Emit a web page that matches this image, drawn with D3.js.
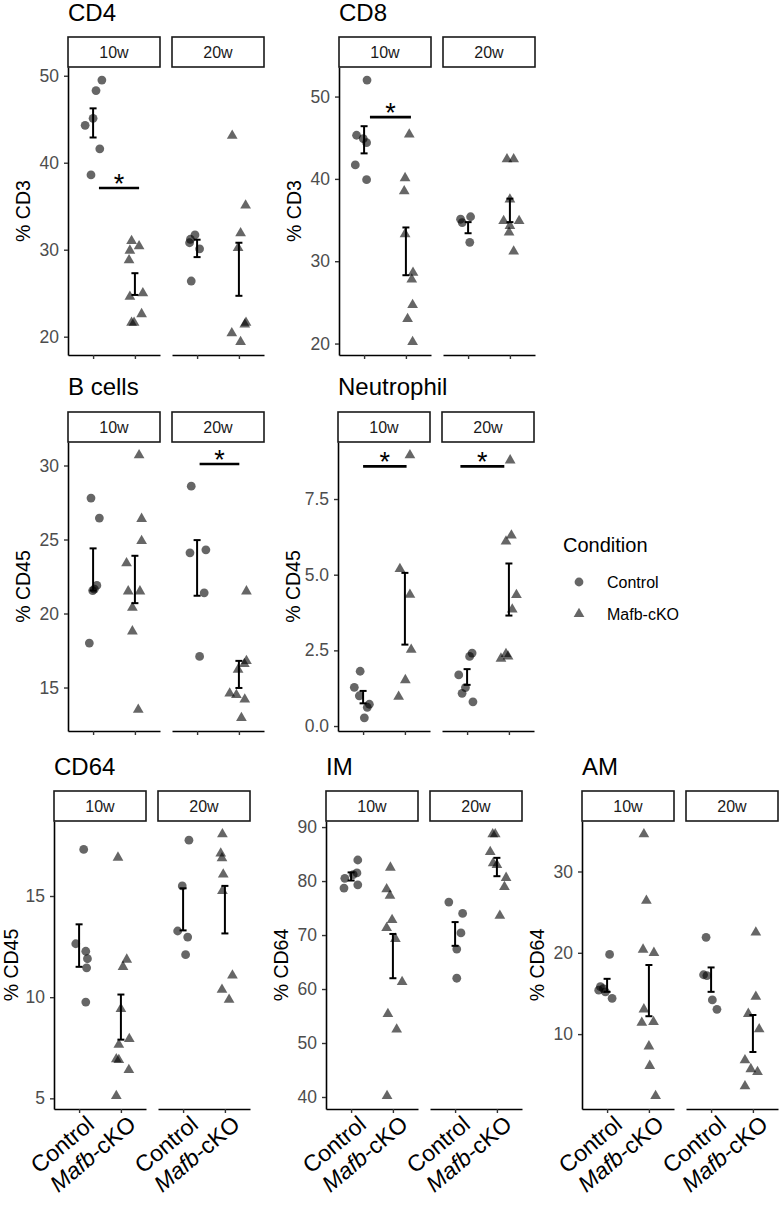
<!DOCTYPE html>
<html>
<head>
<meta charset="utf-8">
<script src="https://cdn.jsdelivr.net/npm/d3@7"></script>
<style>
body { margin: 0; background: #fff; }
svg { font-family: "Liberation Sans", Arial, sans-serif; }
</style>
</head>
<body>
<svg id="chart" width="781" height="1205"></svg>
<script>
// ---- data ----
const ages = ["10w", "20w"];
const conditions = ["Control", "Mafb-cKO"];
const panelNames = ["CD4", "CD8", "B cells", "Neutrophil", "CD64", "IM", "AM"];
const yTitles = ["% CD3", "% CD3", "% CD45", "% CD45", "% CD45", "% CD64", "% CD64"];
const yTicks = [
    [20, 30, 40, 50], [20, 30, 40, 50], [15, 20, 25, 30], [0, 2.5, 5, 7.5],
    [5, 10, 15], [40, 50, 60, 70, 80, 90], [10, 20, 30]
];

// points: [age, condition, value, jitter (category units)]
const cd4Points = [
    ["10w", "Control", 49.5, 0.21], ["10w", "Control", 48.3, 0.07], ["10w", "Control", 45.1, 0],
    ["10w", "Control", 44.3, -0.19], ["10w", "Control", 41.6, 0.16], ["10w", "Control", 38.6, -0.05],
    ["10w", "Mafb-cKO", 31.0, -0.08], ["10w", "Mafb-cKO", 30.4, 0.1], ["10w", "Mafb-cKO", 29.9, -0.12],
    ["10w", "Mafb-cKO", 28.8, -0.14], ["10w", "Mafb-cKO", 25.0, 0.19], ["10w", "Mafb-cKO", 24.6, -0.12],
    ["10w", "Mafb-cKO", 22.6, 0.16], ["10w", "Mafb-cKO", 21.6, -0.08], ["10w", "Mafb-cKO", 21.6, -0.02],
    ["20w", "Control", 31.7, -0.05], ["20w", "Control", 31.2, -0.16], ["20w", "Control", 30.8, -0.18],
    ["20w", "Control", 30.1, 0.06], ["20w", "Control", 26.4, -0.14],
    ["20w", "Mafb-cKO", 43.1, -0.16], ["20w", "Mafb-cKO", 35.1, 0.16], ["20w", "Mafb-cKO", 31.9, 0.04],
    ["20w", "Mafb-cKO", 30.2, -0.02], ["20w", "Mafb-cKO", 21.6, 0.17], ["20w", "Mafb-cKO", 21.4, 0.14],
    ["20w", "Mafb-cKO", 20.4, -0.17], ["20w", "Mafb-cKO", 19.4, 0.04]
];
const cd8Points = [
    ["10w", "Control", 52.0, 0.07], ["10w", "Control", 45.3, -0.18], ["10w", "Control", 44.9, -0.02],
    ["10w", "Control", 44.4, 0.06], ["10w", "Control", 41.7, -0.21], ["10w", "Control", 39.9, 0.06],
    ["10w", "Mafb-cKO", 45.4, 0.08], ["10w", "Mafb-cKO", 40.1, -0.02], ["10w", "Mafb-cKO", 38.5, -0.04],
    ["10w", "Mafb-cKO", 33.3, -0.02], ["10w", "Mafb-cKO", 28.6, 0.17], ["10w", "Mafb-cKO", 27.8, 0.14],
    ["10w", "Mafb-cKO", 24.7, 0.16], ["10w", "Mafb-cKO", 23.0, 0.04], ["10w", "Mafb-cKO", 20.2, 0.16],
    ["20w", "Control", 35.4, 0.06], ["20w", "Control", 35.1, -0.18], ["20w", "Control", 34.7, -0.14],
    ["20w", "Control", 32.3, 0.04],
    ["20w", "Mafb-cKO", 42.4, -0.07], ["20w", "Mafb-cKO", 42.4, 0.09], ["20w", "Mafb-cKO", 37.5, 0],
    ["20w", "Mafb-cKO", 34.9, -0.15], ["20w", "Mafb-cKO", 34.9, 0.22], ["20w", "Mafb-cKO", 34.3, 0],
    ["20w", "Mafb-cKO", 33.5, -0.02], ["20w", "Mafb-cKO", 31.2, 0.09]
];
const bcellPoints = [
    ["10w", "Control", 27.8, -0.05], ["10w", "Control", 26.45, 0.15], ["10w", "Control", 21.9, 0.09],
    ["10w", "Control", 21.65, 0.03], ["10w", "Control", 21.55, -0.01], ["10w", "Control", 18.0, -0.09],
    ["10w", "Mafb-cKO", 30.7, 0.1], ["10w", "Mafb-cKO", 26.4, 0.16], ["10w", "Mafb-cKO", 24.9, 0.16],
    ["10w", "Mafb-cKO", 23.4, -0.2], ["10w", "Mafb-cKO", 21.5, -0.16], ["10w", "Mafb-cKO", 21.5, 0.12],
    ["10w", "Mafb-cKO", 20.4, -0.06], ["10w", "Mafb-cKO", 18.8, -0.06], ["10w", "Mafb-cKO", 13.5, 0.08],
    ["20w", "Control", 28.6, -0.14], ["20w", "Control", 24.3, 0.21], ["20w", "Control", 24.1, -0.17],
    ["20w", "Control", 21.4, 0.17], ["20w", "Control", 17.1, 0.06],
    ["20w", "Mafb-cKO", 21.5, 0.18], ["20w", "Mafb-cKO", 16.8, 0.18], ["20w", "Mafb-cKO", 16.6, 0.13],
    ["20w", "Mafb-cKO", 16.2, -0.02], ["20w", "Mafb-cKO", 14.6, -0.22], ["20w", "Mafb-cKO", 14.5, -0.06],
    ["20w", "Mafb-cKO", 14.2, 0.14], ["20w", "Mafb-cKO", 12.95, 0.06]
];
const neutroPoints = [
    ["10w", "Control", 1.81, -0.07], ["10w", "Control", 1.28, -0.21], ["10w", "Control", 1.0, -0.09],
    ["10w", "Control", 0.72, 0.15], ["10w", "Control", 0.62, 0.1], ["10w", "Control", 0.27, 0.03],
    ["10w", "Mafb-cKO", 8.95, 0.12], ["10w", "Mafb-cKO", 5.19, -0.12], ["10w", "Mafb-cKO", 4.34, 0.12],
    ["10w", "Mafb-cKO", 2.52, 0.15], ["10w", "Mafb-cKO", 1.52, 0.01], ["10w", "Mafb-cKO", 0.97, -0.15],
    ["20w", "Control", 2.41, 0.12], ["20w", "Control", 2.3, 0.06], ["20w", "Control", 1.69, -0.2],
    ["20w", "Control", 1.27, -0.04], ["20w", "Control", 1.08, -0.12], ["20w", "Control", 0.8, 0.14],
    ["20w", "Mafb-cKO", 8.78, 0.03], ["20w", "Mafb-cKO", 6.3, 0.06], ["20w", "Mafb-cKO", 6.1, -0.07],
    ["20w", "Mafb-cKO", 4.33, 0.18], ["20w", "Mafb-cKO", 3.85, 0.08], ["20w", "Mafb-cKO", 2.38, -0.07],
    ["20w", "Mafb-cKO", 2.3, -0.02], ["20w", "Mafb-cKO", 2.23, -0.19]
];
const cd64Points = [
    ["10w", "Control", 17.3, 0.11], ["10w", "Control", 12.64, -0.08], ["10w", "Control", 12.27, 0.16],
    ["10w", "Control", 11.9, 0.2], ["10w", "Control", 11.45, 0.18], ["10w", "Control", 9.76, 0.16],
    ["10w", "Mafb-cKO", 16.9, -0.07], ["10w", "Mafb-cKO", 11.86, 0.14], ["10w", "Mafb-cKO", 11.5, 0.05],
    ["10w", "Mafb-cKO", 9.42, 0], ["10w", "Mafb-cKO", 7.94, 0.2], ["10w", "Mafb-cKO", 7.65, -0.05],
    ["10w", "Mafb-cKO", 6.94, -0.11], ["10w", "Mafb-cKO", 6.9, -0.05], ["10w", "Mafb-cKO", 6.4, 0.19],
    ["10w", "Mafb-cKO", 5.12, -0.11],
    ["20w", "Control", 17.76, 0.14], ["20w", "Control", 15.5, -0.02], ["20w", "Control", 13.27, -0.13],
    ["20w", "Control", 12.97, 0.11], ["20w", "Control", 12.1, 0.06],
    ["20w", "Mafb-cKO", 18.06, -0.06], ["20w", "Mafb-cKO", 17.1, -0.1], ["20w", "Mafb-cKO", 16.87, -0.07],
    ["20w", "Mafb-cKO", 16.07, -0.04], ["20w", "Mafb-cKO", 15.25, -0.06], ["20w", "Mafb-cKO", 11.07, 0.18],
    ["20w", "Mafb-cKO", 10.37, -0.07], ["20w", "Mafb-cKO", 9.88, 0.1]
];
const imPoints = [
    ["10w", "Control", 83.9, 0.16], ["10w", "Control", 81.5, 0.14], ["10w", "Control", 81.2, 0.05],
    ["10w", "Control", 80.5, -0.15], ["10w", "Control", 79.3, 0.16], ["10w", "Control", 78.7, -0.17],
    ["10w", "Mafb-cKO", 82.5, -0.06], ["10w", "Mafb-cKO", 78.5, -0.15], ["10w", "Mafb-cKO", 77.3, -0.07],
    ["10w", "Mafb-cKO", 72.8, -0.02], ["10w", "Mafb-cKO", 71.3, -0.15], ["10w", "Mafb-cKO", 69.3, 0.06],
    ["10w", "Mafb-cKO", 61.3, 0.22], ["10w", "Mafb-cKO", 55.4, -0.12], ["10w", "Mafb-cKO", 52.5, 0.09],
    ["10w", "Mafb-cKO", 40.2, -0.14],
    ["20w", "Control", 76.1, -0.15], ["20w", "Control", 74.0, 0.18], ["20w", "Control", 70.4, 0.14],
    ["20w", "Control", 67.4, 0.04], ["20w", "Control", 62.0, 0.04],
    ["20w", "Mafb-cKO", 88.7, -0.1], ["20w", "Mafb-cKO", 88.7, -0.04], ["20w", "Mafb-cKO", 85.4, -0.16],
    ["20w", "Mafb-cKO", 83.3, -0.09], ["20w", "Mafb-cKO", 83.0, 0.0], ["20w", "Mafb-cKO", 80.6, 0.22],
    ["20w", "Mafb-cKO", 78.9, 0.18], ["20w", "Mafb-cKO", 73.6, 0.07]
];
const amPoints = [
    ["10w", "Control", 19.8, 0.06], ["10w", "Control", 15.85, -0.16], ["10w", "Control", 15.6, -0.09],
    ["10w", "Control", 15.4, -0.2], ["10w", "Control", 15.2, -0.04], ["10w", "Control", 14.4, 0.12],
    ["10w", "Mafb-cKO", 34.6, -0.12], ["10w", "Mafb-cKO", 26.4, -0.06], ["10w", "Mafb-cKO", 20.4, -0.14],
    ["10w", "Mafb-cKO", 20.0, 0.12], ["10w", "Mafb-cKO", 13.05, -0.12], ["10w", "Mafb-cKO", 11.4, -0.17],
    ["10w", "Mafb-cKO", 11.5, 0.11], ["10w", "Mafb-cKO", 8.5, 0], ["10w", "Mafb-cKO", 6.1, 0.02],
    ["10w", "Mafb-cKO", 2.4, 0.16],
    ["20w", "Control", 21.9, -0.12], ["20w", "Control", 17.3, -0.18], ["20w", "Control", 17.2, -0.1],
    ["20w", "Control", 14.2, 0.03], ["20w", "Control", 13.05, 0.14],
    ["20w", "Mafb-cKO", 22.5, 0.07], ["20w", "Mafb-cKO", 14.6, 0.07], ["20w", "Mafb-cKO", 12.5, -0.11],
    ["20w", "Mafb-cKO", 10.6, 0.15], ["20w", "Mafb-cKO", 6.8, -0.19], ["20w", "Mafb-cKO", 5.7, -0.05],
    ["20w", "Mafb-cKO", 5.35, 0.11], ["20w", "Mafb-cKO", 3.6, -0.19]
];

// mean +/- SEM bars: [age, condition, low, high]
const cd4Err = [["10w", "Control", 42.9, 46.25], ["10w", "Mafb-cKO", 24.8, 27.3], ["20w", "Control", 29.15, 31.15], ["20w", "Mafb-cKO", 24.7, 30.8]];
const cd8Err = [["10w", "Control", 43.1, 46.4], ["10w", "Mafb-cKO", 28.3, 34.1], ["20w", "Control", 33.4, 34.75], ["20w", "Mafb-cKO", 34.75, 37.6]];
const bcellErr = [["10w", "Control", 21.55, 24.4], ["10w", "Mafb-cKO", 20.7, 23.9], ["20w", "Control", 21.2, 24.96], ["20w", "Mafb-cKO", 14.97, 16.8]];
const neutroErr = [["10w", "Control", 0.75, 1.16], ["10w", "Mafb-cKO", 2.69, 5.06], ["20w", "Control", 1.36, 1.88], ["20w", "Mafb-cKO", 3.65, 5.37]];
const cd64Err = [["10w", "Control", 11.5, 13.6], ["10w", "Mafb-cKO", 7.9, 10.13], ["20w", "Control", 13.3, 15.38], ["20w", "Mafb-cKO", 13.15, 15.5]];
const imErr = [["10w", "Control", 80.1, 81.6], ["10w", "Mafb-cKO", 62.0, 70.2], ["20w", "Control", 68.0, 72.4], ["20w", "Mafb-cKO", 80.9, 84.3]];
const amErr = [["10w", "Control", 15.2, 16.8], ["10w", "Mafb-cKO", 12.2, 18.5], ["20w", "Control", 15.2, 18.2], ["20w", "Mafb-cKO", 7.8, 12.35]];

// significance bars: [panel, age, y value, x start, x end] (x in category units)
const sigBars = [
    ["CD4", "10w", 37.1, 1.14, 2.10],
    ["CD8", "10w", 47.5, 1.14, 2.12],
    ["B cells", "20w", 30.1, 1.06, 2.01],
    ["Neutrophil", "10w", 8.58, 1.0, 2.04],
    ["Neutrophil", "20w", 8.58, 0.84, 1.89]
];

const allPoints = [cd4Points, cd8Points, bcellPoints, neutroPoints, cd64Points, imPoints, amPoints];
const allErrors = [cd4Err, cd8Err, bcellErr, neutroErr, cd64Err, imErr, amErr];

// ---- layout ----
const rows = [
    { title: 21, stripTop: 37, top: 67, bottom: 355, labels: false },
    { title: 395, stripTop: 412, top: 442, bottom: 731, labels: false },
    { title: 775, stripTop: 791, top: 821, bottom: 1109, labels: true }
];
const panelPos = [
    { x: 68, row: 0 }, { x: 339, row: 0 },
    { x: 68, row: 1 }, { x: 338, row: 1 },
    { x: 54, row: 2 }, { x: 326, row: 2 }, { x: 582, row: 2 }
];
const facetW = 92, facetGap = 12;
const pointFill = "#000", pointAlpha = 0.6;

const svg = d3.select("#chart");
const triangle = d3.symbol().type(d3.symbolTriangle).size(50);

function styleAxis(sel) {
    sel.select(".domain").attr("stroke", "#000").attr("stroke-width", 1.6);
    sel.selectAll(".tick line").attr("stroke", "#333").attr("stroke-width", 1.4);
    sel.selectAll(".tick text").attr("fill", "#4d4d4d").attr("font-size", 17.5)
        .attr("font-family", "Liberation Sans, Arial, sans-serif");
}

panelNames.forEach((name, i) => {
    const pos = panelPos[i];
    const row = rows[pos.row];
    const pts = allPoints[i];
    const errs = allErrors[i];
    const sigs = sigBars.filter(s => s[0] === name);

    // y range like ggplot: data extent + 5%
    const vals = pts.map(d => d[2]).concat(sigs.map(s => s[2]));
    const ext = d3.extent(vals);
    const pad = (ext[1] - ext[0]) * 0.05;
    const y = d3.scaleLinear().domain([ext[0] - pad, ext[1] + pad]).range([row.bottom, row.top]);

    const g = svg.append("g");

    g.append("text")
        .attr("x", pos.x)
        .attr("y", row.title)
        .attr("font-size", 24)
        .attr("fill", "#000")
        .text(name);

    const yAxis = d3.axisLeft(y)
        .tickValues(yTicks[i])
        .tickSize(4)
        .tickPadding(5)
        .tickSizeOuter(0)
        .tickFormat(name === "Neutrophil" ? d3.format(".1f") : d3.format("d"));
    g.append("g")
        .attr("transform", `translate(${pos.x},0)`)
        .call(yAxis)
        .call(styleAxis);

    const titleX = Math.max(pos.x - 38, 18);
    g.append("text")
        .attr("transform", `translate(${titleX},${(row.top + row.bottom) / 2}) rotate(-90)`)
        .attr("text-anchor", "middle")
        .attr("font-size", 19.5)
        .attr("fill", "#000")
        .text(yTitles[i]);

    ages.forEach((age, k) => {
        const x0 = pos.x + k * (facetW + facetGap);
        const x = d3.scaleLinear().domain([0.4, 2.6]).range([x0, x0 + facetW]);

        // strip
        g.append("rect")
            .attr("x", x0)
            .attr("y", row.stripTop)
            .attr("width", facetW)
            .attr("height", row.top - row.stripTop)
            .attr("fill", "#fff")
            .attr("stroke", "#1a1a1a")
            .attr("stroke-width", 1.6);
        g.append("text")
            .attr("x", x0 + facetW / 2)
            .attr("y", (row.stripTop + row.top) / 2 + 6)
            .attr("text-anchor", "middle")
            .attr("font-size", 16)
            .attr("fill", "#1a1a1a")
            .text(age);

        // x axis
        const xAxis = d3.axisBottom(x)
            .tickValues([1, 2])
            .tickSize(4)
            .tickSizeOuter(0)
            .tickFormat("");
        g.append("g")
            .attr("transform", `translate(0,${row.bottom})`)
            .call(xAxis)
            .call(styleAxis);

        if (row.labels) {
            conditions.forEach((c, j) => {
                const t = g.append("text")
                    .attr("transform", `translate(${x(j + 1) + 6},${row.bottom + 5}) rotate(-40)`)
                    .attr("text-anchor", "end")
                    .attr("dy", "0.72em")
                    .attr("font-size", 23)
                    .attr("fill", "#000");
                if (c === "Mafb-cKO") {
                    t.append("tspan").attr("font-style", "italic").text("Mafb");
                    t.append("tspan").text("-cKO");
                } else {
                    t.text(c);
                }
            });
        }

        const facetPts = pts.filter(d => d[0] === age);
        const cx = d => x(conditions.indexOf(d[1]) + 1 + d[3]);

        g.selectAll(null)
            .data(facetPts.filter(d => d[1] === "Control"))
            .enter()
            .append("circle")
            .attr("cx", cx)
            .attr("cy", d => y(d[2]))
            .attr("r", 4.4)
            .attr("fill", pointFill)
            .attr("fill-opacity", pointAlpha);

        g.selectAll(null)
            .data(facetPts.filter(d => d[1] === "Mafb-cKO"))
            .enter()
            .append("path")
            .attr("d", triangle)
            .attr("transform", d => `translate(${cx(d)},${y(d[2])})`)
            .attr("fill", pointFill)
            .attr("fill-opacity", pointAlpha);

        // mean +/- SEM
        errs.filter(e => e[0] === age).forEach(e => {
            const ex = x(conditions.indexOf(e[1]) + 1);
            const eg = g.append("g").attr("stroke", "#000").attr("stroke-width", 2);
            eg.append("line").attr("x1", ex).attr("x2", ex).attr("y1", y(e[2])).attr("y2", y(e[3]));
            eg.append("line").attr("x1", ex - 3.5).attr("x2", ex + 3.5).attr("y1", y(e[2])).attr("y2", y(e[2]));
            eg.append("line").attr("x1", ex - 3.5).attr("x2", ex + 3.5).attr("y1", y(e[3])).attr("y2", y(e[3]));
        });

        // significance
        sigs.filter(s => s[1] === age).forEach(s => {
            g.append("line")
                .attr("x1", x(s[3])).attr("x2", x(s[4]))
                .attr("y1", y(s[2])).attr("y2", y(s[2]))
                .attr("stroke", "#000").attr("stroke-width", 2.6);
            g.append("text")
                .attr("x", (x(s[3]) + x(s[4])) / 2)
                .attr("y", y(s[2]) + 5)
                .attr("text-anchor", "middle")
                .attr("font-size", 27)
                .attr("fill", "#000")
                .text("*");
        });
    });
});

// legend
const lg = svg.append("g").attr("transform", "translate(563,0)");
lg.append("text").attr("x", 0).attr("y", 552).attr("font-size", 20).attr("fill", "#000").text("Condition");
lg.append("circle").attr("cx", 16).attr("cy", 582).attr("r", 4.4)
    .attr("fill", pointFill).attr("fill-opacity", pointAlpha);
lg.append("path").attr("d", triangle).attr("transform", "translate(16,614)")
    .attr("fill", pointFill).attr("fill-opacity", pointAlpha);
lg.append("text").attr("x", 44).attr("y", 587.5).attr("font-size", 16).attr("fill", "#000").text("Control");
lg.append("text").attr("x", 44).attr("y", 619.5).attr("font-size", 16).attr("fill", "#000").text("Mafb-cKO");
</script>
</body>
</html>
